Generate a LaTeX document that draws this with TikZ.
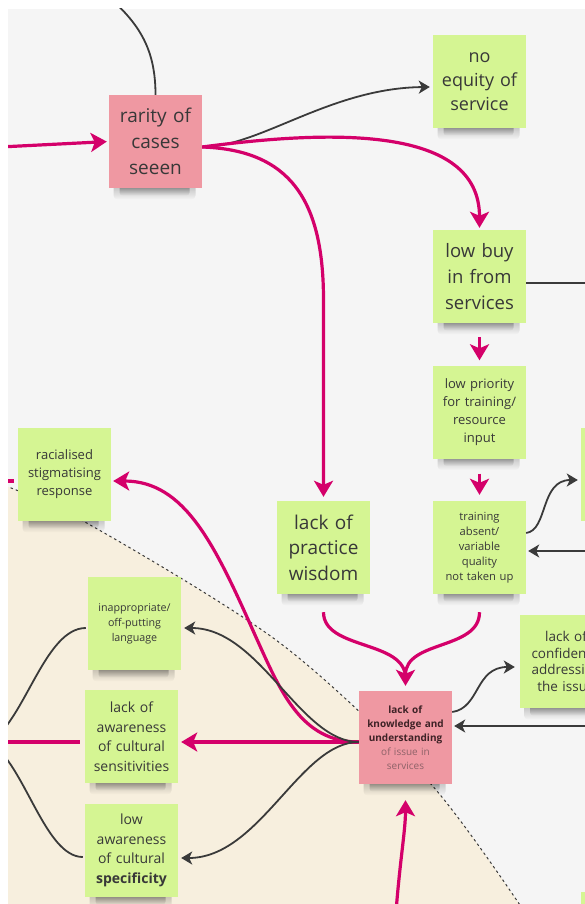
\documentclass[tikz,border=0pt]{standalone}
\usepackage{fontspec}
\setmainfont{Open Sans}
\usetikzlibrary{arrows.meta,fadings}

\definecolor{canvas}{HTML}{F5F5F5}
\definecolor{sand}{HTML}{F7EFDE}
\definecolor{notegreen}{HTML}{D5F593}
\definecolor{notepink}{HTML}{EF98A2}
\definecolor{linkpink}{HTML}{D4006A}
\definecolor{linkdark}{HTML}{3A3A3A}
\definecolor{inktext}{HTML}{383838}
\definecolor{boldink}{HTML}{3E2226}
\definecolor{softink}{HTML}{8E6268}

\tikzset{
  note/.style={minimum width=93pt, minimum height=93pt, inner sep=0pt,
    text width=91pt, align=center, text=inktext},
  cause/.style={draw=linkpink, line width=3.2pt,
    -{Stealth[length=16pt,width=19pt,inset=4pt]}},
  causeplain/.style={draw=linkpink, line width=3.2pt},
  link/.style={draw=linkdark, line width=1.8pt,
    -{Stealth[length=11pt,width=13pt,inset=3pt]}},
  linkplain/.style={draw=linkdark, line width=1.8pt},
  border/.style={draw=linkdark, line width=1pt, dash pattern=on 2.5pt off 3pt},
}

% sticky note with a soft shadow under its lower edge
\newcommand\stickynote[6]{%
  \fill[black,opacity=.28,path fading=south,rounded corners=4pt]
    ({#2-42},{#3+40}) rectangle ({#2+40},{#3+58});
  \fill[black,opacity=.42,path fading=south,rounded corners=3pt]
    ({#2-36},{#3+42}) rectangle ({#2+34},{#3+54});
  \node[note,fill=#4,font={#5}] (#1) at (#2,#3) {#6};}

\begin{document}
\begin{tikzpicture}[x=1pt,y=-1pt]
\useasboundingbox (0,0) rectangle (585,904);
\fill[white] (0,0) rectangle (585,904);
\begin{scope}
\clip (8,9) rectangle (585,904);
\fill[canvas] (8,9) rectangle (585,904);

% shaded region and its dashed border
\fill[sand] plot[smooth] coordinates {(-10,480) (85,522) (280,643) (430,783) (530,920)}
  -- (-10,920) -- cycle;
\draw[border] plot[smooth] coordinates {(-10,480) (85,522) (280,643) (430,783) (530,920)};

% sticky notes
\stickynote{rarity}{155.5}{141.5}{notepink}{\fontsize{19}{26}\selectfont}{rarity of\\cases\\seeen}
\stickynote{noeq}{479.5}{81.5}{notegreen}{\fontsize{18}{24}\selectfont}{no\\equity of\\service}
\stickynote{lowbuy}{479.5}{276.5}{notegreen}{\fontsize{18.5}{26}\selectfont}{low buy\\in from\\services}
\stickynote{lowprio}{479.5}{412}{notegreen}{\fontsize{13}{18}\selectfont}{low priority\\for training/\\resource\\input}
\stickynote{training}{479.5}{547.5}{notegreen}{\fontsize{11.2}{15}\selectfont}{training\\absent/\\variable\\quality\\not taken up}
\stickynote{practice}{323.5}{547.5}{notegreen}{\fontsize{19}{25.5}\selectfont}{lack of\\practice\\wisdom}
\stickynote{know}{405.5}{737.5}{notepink}{\fontsize{10}{14}\selectfont}{\textcolor{boldink}{\textbf{lack of}}\\\textcolor{boldink}{\textbf{knowledge and}}\\\textcolor{boldink}{\textbf{understanding}}\\\textcolor{softink}{of issue in}\\\textcolor{softink}{services}}
\stickynote{racial}{64.5}{474.5}{notegreen}{\fontsize{13}{18}\selectfont}{racialised\\stigmatising\\response}
\stickynote{inapp}{134.5}{623.5}{notegreen}{\fontsize{10.7}{15}\selectfont}{inappropriate/\\off-putting\\language}
\stickynote{sens}{131.5}{736.5}{notegreen}{\fontsize{14}{19.5}\selectfont}{lack of\\awareness\\of cultural\\sensitivities}
\stickynote{spec}{131.5}{850.5}{notegreen}{\fontsize{14}{19.5}\selectfont}{low\\awareness\\of cultural\\\textbf{specificity}}
\stickynote{conf}{566}{661.5}{notegreen}{\fontsize{13.5}{16.7}\selectfont}{lack of\\confidence\\addressing\\the issue}
\stickynote{sideA}{627.5}{474.5}{notegreen}{\fontsize{13}{18}\selectfont}{}
\stickynote{sideB}{627.5}{938.5}{notegreen}{\fontsize{13}{18}\selectfont}{}

% loose ends leaving the canvas
\coordinate (topend) at (110,-2);
\coordinate (leftin) at (0,147);
\coordinate (rightout) at (592,283);
\coordinate (rightin1) at (592,551);
\coordinate (rightin2) at (592,726);
\coordinate (bottomin) at (396,912);
\coordinate (leftstub) at (0,481);
\coordinate (leftout) at (-10,742);
\coordinate (rout) at ([yshift=-5.5pt]rarity.east);
\coordinate (kw) at ([yshift=-4.5pt]know.west);

% connectors around "rarity of cases seeen"
\draw[linkplain] (rarity.north) .. controls (155.5,50) and (140,25) .. (topend);
\draw[cause, shorten >=2pt] (leftin) -- (rarity.west);
\draw[link] (rout) .. controls (260,147) and (330,88) .. ([shift={(-3pt,-5.5pt)}]noeq.west);
\draw[cause] (rout) .. controls (330,130) and (479.5,125) .. ([yshift=2pt]lowbuy.north);
\draw[cause] (rout) .. controls (290,150) and (323.5,200) .. (323.5,300)
  -- ([yshift=4pt]practice.north);

% right-hand column
\draw[linkplain] ([yshift=-6.5pt]lowbuy.east) -- (rightout);
\draw[cause, shorten <=14pt, shorten >=5pt] (lowbuy.south) -- (lowprio.north);
\draw[cause, shorten <=15pt, shorten >=6pt] (lowprio.south) -- (training.north);
\draw[link] ([yshift=14.5pt]training.east) .. controls (548,530) and (540,480)
  .. ([shift={(-3pt,-5.5pt)}]sideA.west);
\draw[link] (rightin1) -- ([shift={(2pt,-3.5pt)}]training.east);

% into "lack of knowledge and understanding"
\draw[causeplain, shorten >=8pt] ([yshift=-18pt]practice.south) .. controls (323.5,650) and (405.5,640)
  .. ([yshift=5pt]know.north);
\draw[cause] ([yshift=-18pt]training.south) .. controls (479.5,650) and (405.5,640)
  .. ([yshift=5pt]know.north);
\draw[link] ([yshift=25.5pt]know.east) .. controls (480,708) and (475,667)
  .. ([shift={(-4.5pt,-5.5pt)}]conf.west);
\draw[link] (rightin2) -- ([shift={(2pt,11.5pt)}]know.east);
\draw[cause] (bottomin) .. controls (400,860) and (405.5,830) .. ([yshift=-16pt]know.south);

% out of "lack of knowledge and understanding"
\draw[cause] (kw) -- ([shift={(3pt,-5.5pt)}]sens.east);
\draw[cause] (kw) .. controls (300,742) and (280,690) .. (255,635)
  .. controls (215,545) and (185,481) .. ([shift={(2pt,-6.5pt)}]racial.east);
\draw[link] (kw) .. controls (300,742) and (260,628) .. ([shift={(3pt,-4.5pt)}]inapp.east);
\draw[link] (kw) .. controls (300,742) and (260,858) .. ([shift={(3pt,-7.5pt)}]spec.east);

% left edge
\draw[linkplain] ([shift={(-2pt,-4.5pt)}]inapp.west) .. controls (45,628) and (25,720) .. (leftout);
\draw[linkplain] ([shift={(-2pt,-6.5pt)}]spec.west) .. controls (45,857) and (25,765) .. (leftout);
\draw[causeplain] (leftout) -- ([shift={(-5pt,-5.5pt)}]sens.west);
\draw[causeplain] (leftstub) -- ([shift={(-4pt,-6.5pt)}]racial.west);
\end{scope}
\end{tikzpicture}
\end{document}
